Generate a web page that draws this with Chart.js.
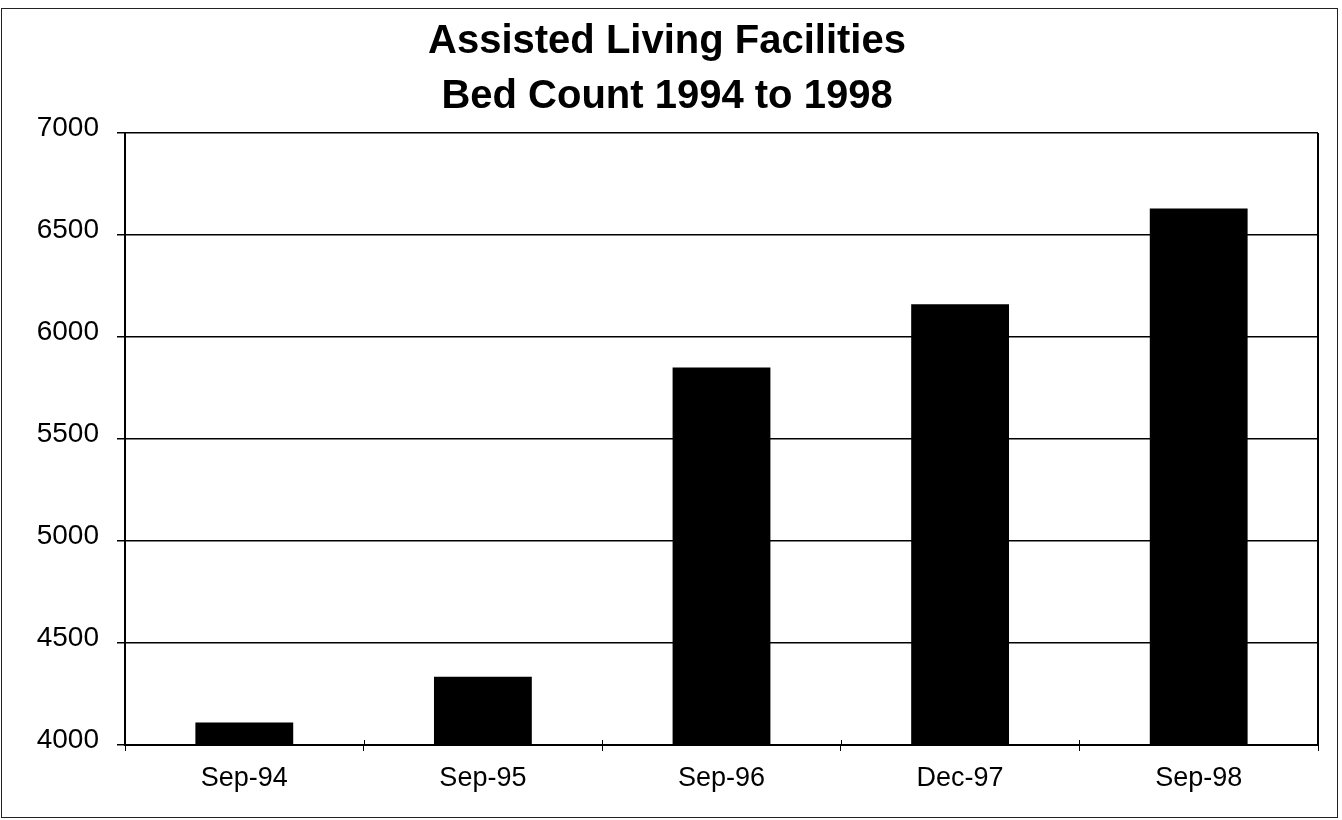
<!DOCTYPE html>
<html>
<head>
<meta charset="utf-8">
<title>Assisted Living Facilities - Bed Count 1994 to 1998</title>
<script src="https://cdn.jsdelivr.net/npm/chart.js@4.4.1/dist/chart.umd.min.js"></script>
<style>
    html, body { margin: 0; padding: 0; background: #fff; }
    #wrap { width: 1342px; height: 820px; position: relative; }
</style>
</head>
<body>
<div id="wrap"><canvas id="chart-beds" width="1342" height="820"></canvas></div>
<script>
// Data
const periods = ['Sep-94', 'Sep-95', 'Sep-96', 'Dec-97', 'Sep-98'];
const bedCounts = [4110, 4335, 5850, 6160, 6630];
const titleLines = ['Assisted Living Facilities', 'Bed Count 1994 to 1998'];
const yMin = 4000;
const yMax = 7000;
const yStep = 500;

const FONT = '"Liberation Sans", Arial, Helvetica, sans-serif';

// Frame around the whole sheet, right edge of the plot box,
// and the little upward part of the category ticks
const framePlugin = {
    id: 'frame',
    afterDraw(chart) {
        const ctx = chart.ctx;
        const area = chart.chartArea;
        const xScale = chart.scales.x;
        ctx.save();
        ctx.strokeStyle = '#000';
        ctx.lineWidth = 2;
        ctx.beginPath();
        ctx.moveTo(area.right, area.top);
        ctx.lineTo(area.right, area.bottom);
        ctx.stroke();

        ctx.lineWidth = 1;
        ctx.beginPath();
        for (let i = 1; i < periods.length; i++) {
            const x = Math.round((xScale.getPixelForValue(i - 1) + xScale.getPixelForValue(i)) / 2) + 0.5;
            ctx.moveTo(x, area.bottom - 5);
            ctx.lineTo(x, area.bottom);
        }
        ctx.stroke();

        // outer border
        ctx.strokeStyle = '#222';
        ctx.strokeRect(1.5, 8.5, 1336, 809);
        ctx.restore();
    }
};

new Chart(document.getElementById('chart-beds'), {
    type: 'bar',
    data: {
        labels: periods,
        datasets: [{
            label: 'Beds',
            data: bedCounts,
            backgroundColor: '#000',
            borderWidth: 0,
            barPercentage: 0.41,
            categoryPercentage: 1.0
        }]
    },
    options: {
        responsive: false,
        animation: false,
        layout: {
            padding: { left: 16, right: 24, top: 0, bottom: 0 }
        },
        plugins: {
            legend: { display: false },
            tooltip: { enabled: false },
            title: {
                display: true,
                text: titleLines,
                color: '#000',
                font: { family: FONT, size: 40, weight: 'bold', lineHeight: 1.375 },
                padding: { top: 14, bottom: 9 }
            }
        },
        scales: {
            x: {
                grid: {
                    offset: true,
                    drawOnChartArea: false,
                    drawTicks: true,
                    tickLength: 6,
                    color: '#000',
                    lineWidth: 1
                },
                border: { display: true, color: '#000', width: 2 },
                ticks: {
                    color: '#000',
                    font: { family: FONT, size: 27 },
                    padding: 11,
                    maxRotation: 0
                },
                afterFit(scale) {
                    scale.height = 75;
                }
            },
            y: {
                min: yMin,
                max: yMax,
                ticks: {
                    stepSize: yStep,
                    color: '#000',
                    font: { family: FONT, size: 28 },
                    padding: 18,
                    labelOffset: -5,
                    callback: (v) => String(v)
                },
                grid: {
                    color: '#000',
                    lineWidth: 1.5,
                    tickLength: 8
                },
                border: { display: true, color: '#000', width: 2 },
                afterFit(scale) {
                    scale.width = 109;
                }
            }
        }
    },
    plugins: [framePlugin]
});
</script>
</body>
</html>
